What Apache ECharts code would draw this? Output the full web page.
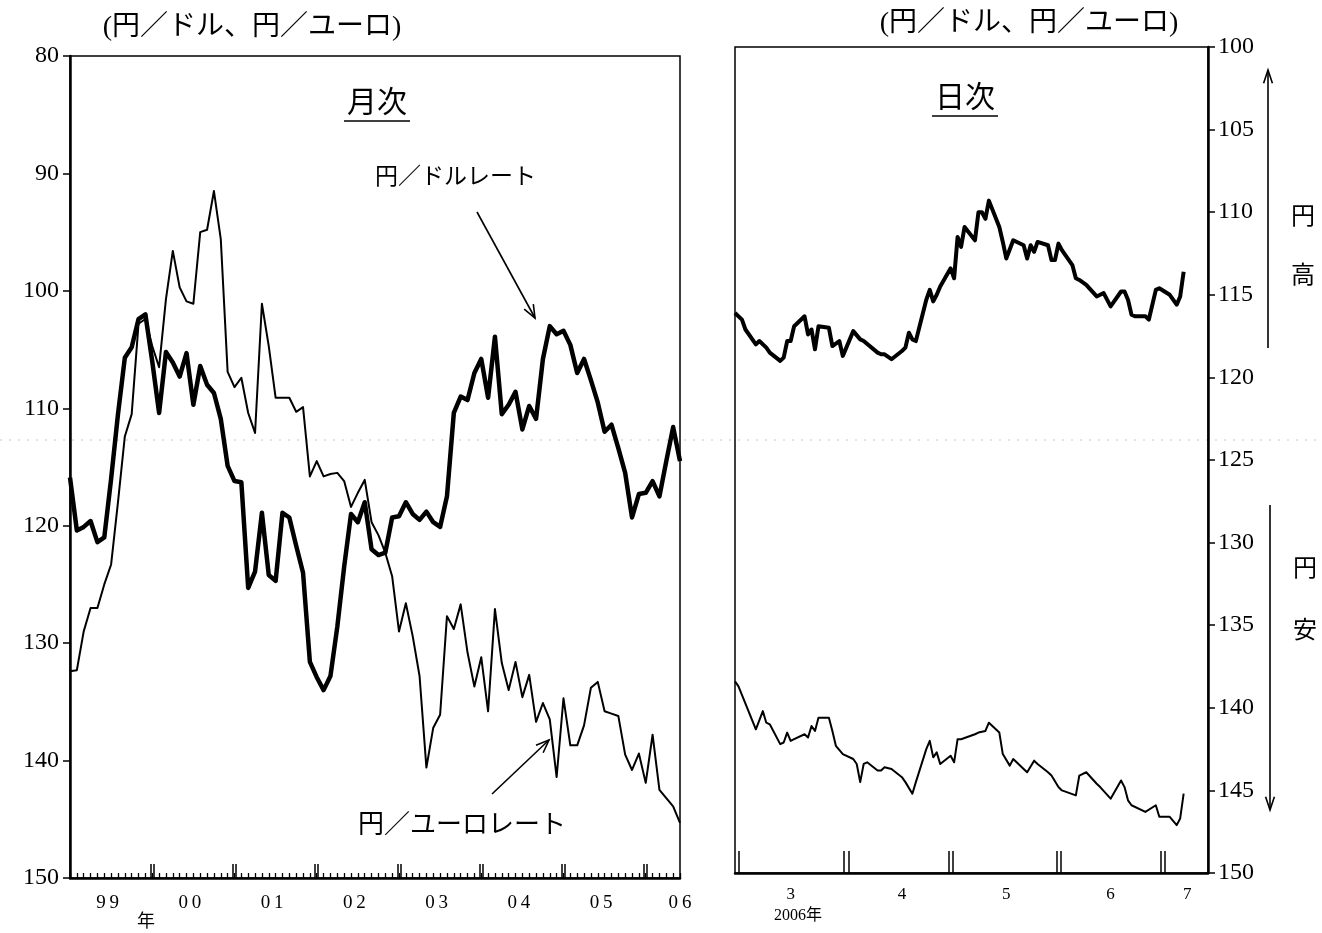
<!DOCTYPE html>
<html><head><meta charset="utf-8">
<script src="https://cdn.jsdelivr.net/npm/echarts@6/dist/echarts.min.js"></script>
<style>html,body{margin:0;padding:0;background:#fff}#c{width:1322px;height:933px}</style>
</head><body><div id="c"></div>
<script>
// ---------------- data ----------------
// monthly (Jan 1999 = index 0 ... Jun 2006 = index 89)
const yearLabels = ['99','00','01','02','03','04','05','06'];
const usdMonthly = [
115.9,120.4,120.1,119.6,121.4,121.0,116.0,110.5,105.7,104.8,102.4,102.0,
106.0,110.4,105.2,106.1,107.3,105.3,109.7,106.4,108.0,108.7,110.9,114.9,
116.2,116.3,125.3,123.9,118.9,124.2,124.7,118.9,119.3,121.7,124.0,131.6,
132.9,134.0,132.8,128.6,123.5,119.0,119.7,118.0,122.0,122.5,122.3,119.3,
119.2,118.0,119.0,119.5,118.8,119.7,120.1,117.5,110.4,109.0,109.3,107.0,
105.8,109.1,103.9,110.5,109.7,108.6,111.8,109.8,110.9,105.8,103.0,103.7,
103.4,104.6,107.0,105.8,107.6,109.5,112.0,111.4,113.4,115.5,119.3,117.3,
117.2,116.2,117.5,114.5,111.6,114.5];
const eurMonthly = [
132.4,132.3,129.0,127.0,127.0,125.0,123.3,118.0,112.4,110.5,102.8,102.4,
104.7,106.5,100.7,96.6,99.7,100.9,101.1,95.0,94.8,91.5,95.6,106.9,
108.2,107.4,110.4,112.1,101.1,104.7,109.1,109.1,109.1,110.3,109.9,115.8,
114.5,115.8,115.6,115.5,116.2,118.4,117.2,116.1,119.7,120.8,122.3,124.3,
129.0,126.6,129.4,132.8,140.6,137.2,136.1,127.7,128.8,126.7,130.8,133.7,
131.2,135.8,127.1,131.7,134.0,131.6,134.6,132.7,136.7,135.1,136.5,141.4,
134.7,138.7,138.7,137.0,133.8,133.3,135.8,136.0,136.2,139.5,140.8,139.4,
141.9,137.8,142.5,143.2,143.9,145.3];

// daily (2006)
const monthLabels = ['3','4','5','6','7'];
const usdDates = ['2006-02-28','2006-03-02','2006-03-03','2006-03-06','2006-03-07','2006-03-09','2006-03-10','2006-03-13','2006-03-14','2006-03-15','2006-03-16','2006-03-17','2006-03-20','2006-03-21','2006-03-22','2006-03-23','2006-03-24','2006-03-27','2006-03-28','2006-03-30','2006-03-31','2006-04-03','2006-04-05','2006-04-06','2006-04-10','2006-04-11','2006-04-12','2006-04-14','2006-04-17','2006-04-18','2006-04-19','2006-04-20','2006-04-21','2006-04-24','2006-04-25','2006-04-26','2006-04-27','2006-04-28','2006-05-01','2006-05-02','2006-05-03','2006-05-04','2006-05-05','2006-05-08','2006-05-09','2006-05-10','2006-05-11','2006-05-12','2006-05-15','2006-05-16','2006-05-17','2006-05-19','2006-05-22','2006-05-23','2006-05-24','2006-05-25','2006-05-26','2006-05-29','2006-05-30','2006-05-31','2006-06-01','2006-06-02','2006-06-05','2006-06-06','2006-06-07','2006-06-09','2006-06-12','2006-06-13','2006-06-14','2006-06-16','2006-06-19','2006-06-20','2006-06-21','2006-06-22','2006-06-23','2006-06-26','2006-06-27','2006-06-29','2006-06-30','2006-07-03','2006-07-05','2006-07-06','2006-07-07'];
const usdDaily = [116.1,116.5,117.1,118.0,117.8,118.2,118.5,119.0,118.8,117.8,117.8,116.9,116.3,117.4,117.1,118.3,116.9,117.0,118.1,117.8,118.7,117.2,117.7,117.8,118.5,118.6,118.6,118.9,118.4,118.2,117.3,117.7,117.8,115.3,114.7,115.4,115.0,114.5,113.4,114.0,111.5,112.1,110.9,111.7,110.0,110.0,110.4,109.3,110.9,111.8,112.8,111.7,112.0,112.8,112.0,112.4,111.8,112.0,112.9,112.9,111.9,112.3,113.2,114.0,114.1,114.4,115.1,115.0,114.9,115.7,114.8,114.8,115.3,116.2,116.3,116.3,116.5,114.7,114.6,115.0,115.6,115.1,113.6];
const eurDates = ['2006-02-28','2006-03-01','2006-03-06','2006-03-08','2006-03-09','2006-03-10','2006-03-13','2006-03-14','2006-03-15','2006-03-16','2006-03-17','2006-03-20','2006-03-21','2006-03-22','2006-03-23','2006-03-24','2006-03-27','2006-03-28','2006-03-29','2006-03-31','2006-04-03','2006-04-04','2006-04-05','2006-04-06','2006-04-07','2006-04-10','2006-04-11','2006-04-12','2006-04-14','2006-04-17','2006-04-18','2006-04-20','2006-04-21','2006-04-24','2006-04-25','2006-04-26','2006-04-27','2006-04-28','2006-05-01','2006-05-02','2006-05-03','2006-05-04','2006-05-08','2006-05-09','2006-05-11','2006-05-12','2006-05-15','2006-05-16','2006-05-18','2006-05-19','2006-05-22','2006-05-23','2006-05-25','2006-05-26','2006-05-29','2006-05-30','2006-06-01','2006-06-02','2006-06-06','2006-06-07','2006-06-09','2006-06-12','2006-06-13','2006-06-16','2006-06-19','2006-06-20','2006-06-21','2006-06-22','2006-06-26','2006-06-29','2006-06-30','2006-07-03','2006-07-05','2006-07-06','2006-07-07'];
const eurDaily = [138.4,138.7,141.3,140.2,140.9,141.0,142.2,142.1,141.5,142.0,141.9,141.6,141.8,141.1,141.4,140.6,140.6,141.4,142.3,142.8,143.1,143.4,144.5,143.4,143.3,143.8,143.8,143.6,143.7,144.2,144.5,145.2,144.5,142.5,142.0,143.0,142.7,143.4,142.9,143.3,141.9,141.9,141.6,141.5,141.4,140.9,141.5,142.8,143.5,143.1,143.7,143.9,143.2,143.4,143.9,144.1,144.8,145.0,145.3,144.1,143.9,144.6,144.8,145.5,144.4,144.8,145.6,145.9,146.3,145.9,146.6,146.6,147.1,146.7,145.2];

// ---------------- chart ----------------
const FONT = "'Liberation Serif','Noto Sans CJK JP',serif";
const DAY0 = Date.UTC(2006, 1, 28);
// days since 2006-02-28
const d = s => { const p = s.split('-').map(Number); return (Date.UTC(p[0], p[1]-1, p[2]) - DAY0) / 86400e3; };

const yearTicks = [];
for (let k = 1; k <= 7; k++) { yearTicks.push(12*k - 0.22, 12*k + 0.22); }
const yearLabelPos = yearLabels.map((_, k) => Math.min(5.5 + 12*k, 89));

const monthStarts = ['2006-04-01','2006-05-01','2006-06-01','2006-07-01'];
const dayTicks = [d('2006-03-01')];
monthStarts.forEach(s => { dayTicks.push(d(s) - 0.6, d(s) + 0.6); });
const dayLabelPos = ['2006-03-16','2006-04-17','2006-05-17','2006-06-16','2006-07-08'].map(d);

const chart = echarts.init(document.getElementById('c'), null, {renderer: 'canvas'});

function arrow(x1, y1, x2, y2, len, ang) {
  const a = Math.atan2(y2 - y1, x2 - x1);
  const p1 = [x2 - len*Math.cos(a - ang), y2 - len*Math.sin(a - ang)];
  const p2 = [x2 - len*Math.cos(a + ang), y2 - len*Math.sin(a + ang)];
  return [
    {type:'line', shape:{x1, y1, x2, y2}, style:{stroke:'#000', lineWidth:1.6}},
    {type:'polyline', shape:{points:[p1, [x2, y2], p2]}, style:{stroke:'#000', lineWidth:1.6, fill:null}}
  ];
}
function txt(text, x, y, size, align) {
  return {type:'text', x, y, style:{text, fill:'#000', fontSize:size, fontFamily:FONT,
    align: align || 'center', verticalAlign:'middle'}};
}

const option = {
  backgroundColor: '#fff',
  animation: false,
  grid: [
    {left:70, top:56, width:610, height:822, show:true, borderColor:'#000', borderWidth:1.5, backgroundColor:'transparent'},
    {left:735, top:47, width:473, height:826, show:true, borderColor:'#000', borderWidth:1.5, backgroundColor:'transparent'}
  ],
  xAxis: [
    {gridIndex:0, type:'value', min:0, max:89, interval:1, position:'bottom',
     axisLine:{show:true, onZero:false, lineStyle:{color:'#000', width:2.5}},
     axisTick:{show:true, inside:true, length:5, lineStyle:{color:'#000', width:1.3}},
     axisLabel:{show:false}, splitLine:{show:false}},
    {gridIndex:0, type:'value', min:0, max:89, position:'bottom',
     axisLine:{show:false, onZero:false},
     axisTick:{show:true, inside:true, length:14, customValues:yearTicks, lineStyle:{color:'#000', width:1.5}},
     axisLabel:{show:true, customValues:yearLabelPos, margin:16, color:'#000', fontSize:19, fontFamily:FONT,
       formatter: v => { const k = Math.round((v - 5.5)/12); return yearLabels[Math.max(0, Math.min(7, k))].split('').join('\u2009'); }},
     splitLine:{show:false}},
    {gridIndex:1, type:'value', min:0, max:136, position:'bottom',
     axisLine:{show:true, onZero:false, lineStyle:{color:'#000', width:2.5}},
     axisTick:{show:true, inside:true, length:22, customValues:dayTicks, lineStyle:{color:'#000', width:1.5}},
     axisLabel:{show:true, customValues:dayLabelPos, margin:13, color:'#000', fontSize:17, fontFamily:FONT,
       formatter: v => { const m = new Date(DAY0 + v*86400e3).getUTCMonth() + 1; return monthLabels[m - 3]; }},
     splitLine:{show:false}}
  ],
  yAxis: [
    {gridIndex:0, type:'value', inverse:true, min:80, max:150, interval:10, position:'left',
     axisLine:{show:true, onZero:false, lineStyle:{color:'#000', width:2.5}},
     axisTick:{show:true, inside:false, length:7, lineStyle:{color:'#000', width:1.5}},
     axisLabel:{color:'#000', fontSize:24, fontFamily:FONT, margin:11},
     splitLine:{show:false}},
    {gridIndex:1, type:'value', inverse:true, min:100, max:150, interval:5, position:'right',
     axisLine:{show:true, onZero:false, lineStyle:{color:'#000', width:2.5}},
     axisTick:{show:true, inside:false, length:7, lineStyle:{color:'#000', width:1.5}},
     axisLabel:{color:'#000', fontSize:24, fontFamily:FONT, margin:10},
     splitLine:{show:false}}
  ],
  series: [
    {name:'円／ドル(月次)', type:'line', xAxisIndex:0, yAxisIndex:0, symbol:'none',
     data: usdMonthly.map((v, i) => [i, v]), lineStyle:{color:'#000', width:4.5, join:'round'}},
    {name:'円／ユーロ(月次)', type:'line', xAxisIndex:0, yAxisIndex:0, symbol:'none',
     data: eurMonthly.map((v, i) => [i, v]), lineStyle:{color:'#000', width:2, join:'round'}},
    {name:'円／ドル(日次)', type:'line', xAxisIndex:2, yAxisIndex:1, symbol:'none',
     data: usdDates.map((s, i) => [d(s), usdDaily[i]]), lineStyle:{color:'#000', width:4, join:'round'}},
    {name:'円／ユーロ(日次)', type:'line', xAxisIndex:2, yAxisIndex:1, symbol:'none',
     data: eurDates.map((s, i) => [d(s), eurDaily[i]]), lineStyle:{color:'#000', width:2, join:'round'}}
  ],
  graphic: [
    {type:'line', silent:true, shape:{x1:0, y1:440, x2:1322, y2:440}, style:{stroke:'#c8c8c8', lineWidth:1, lineDash:[2,7]}, z:-1},
    txt('(円／ドル、円／ユーロ)', 252, 28, 28),
    txt('(円／ドル、円／ユーロ)', 1029, 24, 28),
    txt('月次', 377, 104, 30),
    {type:'line', shape:{x1:344, y1:121, x2:410, y2:121}, style:{stroke:'#000', lineWidth:1.6}},
    txt('日次', 965, 99, 30),
    {type:'line', shape:{x1:932, y1:116, x2:998, y2:116}, style:{stroke:'#000', lineWidth:1.6}},
    txt('円／ドルレート', 375, 178, 23, 'left'),
    ...arrow(477, 212, 535, 318, 14, 0.38),
    txt('円／ユーロレート', 358, 826, 26, 'left'),
    ...arrow(492, 794, 549, 740, 14, 0.38),
    txt('年', 146, 922, 18),
    txt('2006年', 798, 916, 16),
    txt('円', 1303, 218, 24),
    txt('高', 1303, 277, 24),
    ...arrow(1268, 348, 1268, 70, 14, 0.32),
    txt('円', 1305, 570, 24),
    txt('安', 1305, 632, 24),
    ...arrow(1270, 505, 1270, 810, 14, 0.32)
  ]
};
chart.setOption(option);
</script>
</body></html>
